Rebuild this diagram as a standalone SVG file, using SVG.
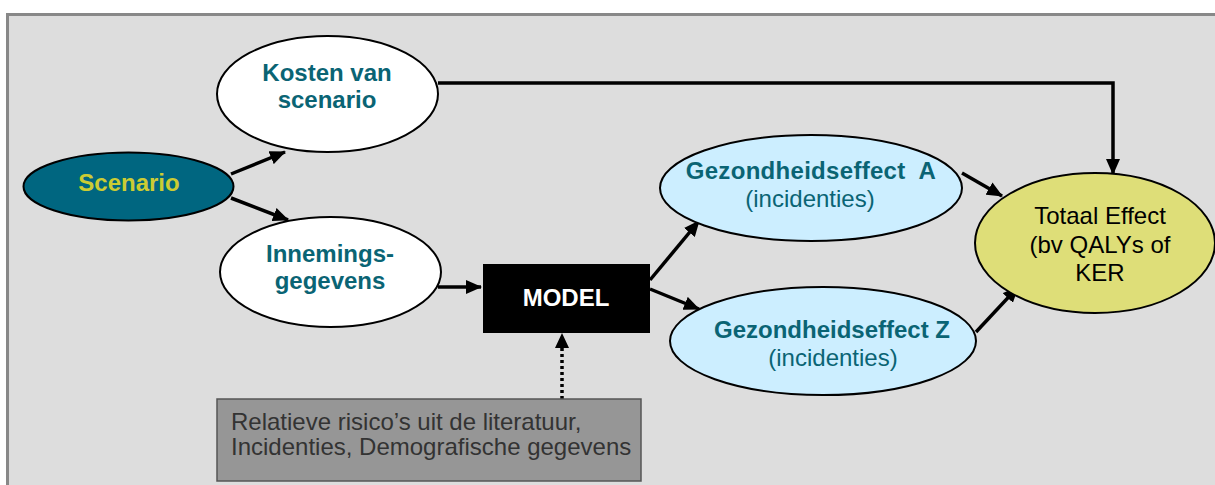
<svg xmlns="http://www.w3.org/2000/svg" width="1215" height="485" viewBox="0 0 1215 485">
<style>
.bg{fill:#dddddd;stroke:#888888;stroke-width:3}
.node{stroke:#000;stroke-width:2}
.t{font-family:"Liberation Sans",Arial,sans-serif;font-size:24px;text-anchor:middle}
.b{font-weight:bold}
.teal{fill:#0a6474}
.conn{fill:none;stroke:#000;stroke-width:3.5}
</style>
<defs>
<marker id="ah" markerUnits="userSpaceOnUse" markerWidth="16" markerHeight="14" refX="15" refY="7" orient="auto">
<path d="M0,0 L16,7 L0,14 z" fill="#000"/>
</marker>
</defs>
<rect x="0" y="0" width="1215" height="485" fill="#ffffff"/>
<rect class="bg" x="7.5" y="14.5" width="1220" height="480"/>
<g id="connectors">
<line class="conn" x1="231" y1="174" x2="285" y2="152" marker-end="url(#ah)"/>
<line class="conn" x1="231" y1="198" x2="288" y2="220" marker-end="url(#ah)"/>
<polyline class="conn" points="438,83 1113,83 1113,174" marker-end="url(#ah)"/>
<line class="conn" x1="438" y1="287" x2="481" y2="287" marker-end="url(#ah)"/>
<line class="conn" x1="650" y1="280" x2="699" y2="221" marker-end="url(#ah)"/>
<line class="conn" x1="650" y1="289" x2="699" y2="309" marker-end="url(#ah)"/>
<line class="conn" x1="962" y1="173" x2="1002" y2="196" marker-end="url(#ah)"/>
<line class="conn" x1="976" y1="332" x2="1018" y2="287" marker-end="url(#ah)"/>
<line x1="562" y1="399" x2="562" y2="346" stroke="#000" stroke-width="3.5" stroke-dasharray="3,3"/>
<path d="M555,348 L562,333 L569,348 z" fill="#000"/>
</g>
<g id="scenario">
<ellipse class="node" cx="128.5" cy="186.5" rx="105" ry="34" fill="#006680"/>
<text class="t b" x="129" y="191" fill="#cccc33">Scenario</text>
</g>
<g id="kosten">
<ellipse class="node" cx="327.5" cy="94" rx="110.5" ry="58" fill="#ffffff"/>
<text class="t b teal" x="327" y="81">Kosten van</text>
<text class="t b teal" x="327" y="108">scenario</text>
</g>
<g id="innemings">
<ellipse class="node" cx="330.5" cy="272" rx="110.5" ry="55" fill="#ffffff"/>
<text class="t b teal" x="330" y="262">Innemings-</text>
<text class="t b teal" x="330" y="289">gegevens</text>
</g>
<g id="model">
<rect x="483" y="264" width="167" height="69" fill="#000000"/>
<text class="t b" x="566" y="306" fill="#ffffff">MODEL</text>
</g>
<g id="effectA">
<ellipse class="node" cx="811" cy="188" rx="151" ry="53" fill="#cceeff"/>
<text class="t b teal" x="811" y="179" xml:space="preserve" style="letter-spacing:0.3px">Gezondheidseffect  A</text>
<text class="t teal" x="810" y="207">(incidenties)</text>
</g>
<g id="effectZ">
<ellipse class="node" cx="823" cy="341" rx="153" ry="54" fill="#cceeff"/>
<text class="t b teal" x="832" y="338">Gezondheidseffect Z</text>
<text class="t teal" x="833" y="366">(incidenties)</text>
</g>
<g id="totaal">
<ellipse class="node" cx="1095" cy="243" rx="120" ry="70" fill="#dede78"/>
<text class="t" x="1100" y="224" fill="#000">Totaal Effect</text>
<text class="t" x="1100" y="253" fill="#000">(bv QALYs of</text>
<text class="t" x="1100" y="281" fill="#000">KER</text>
</g>
<g id="bronnen">
<rect x="217" y="399" width="424" height="82" fill="#969696" stroke="#555555" stroke-width="1.5"/>
<text class="t" x="231" y="430" fill="#333333" style="text-anchor:start">Relatieve risico’s uit de literatuur,</text>
<text class="t" x="231" y="455" fill="#333333" style="text-anchor:start">Incidenties, Demografische gegevens</text>
</g>
</svg>
